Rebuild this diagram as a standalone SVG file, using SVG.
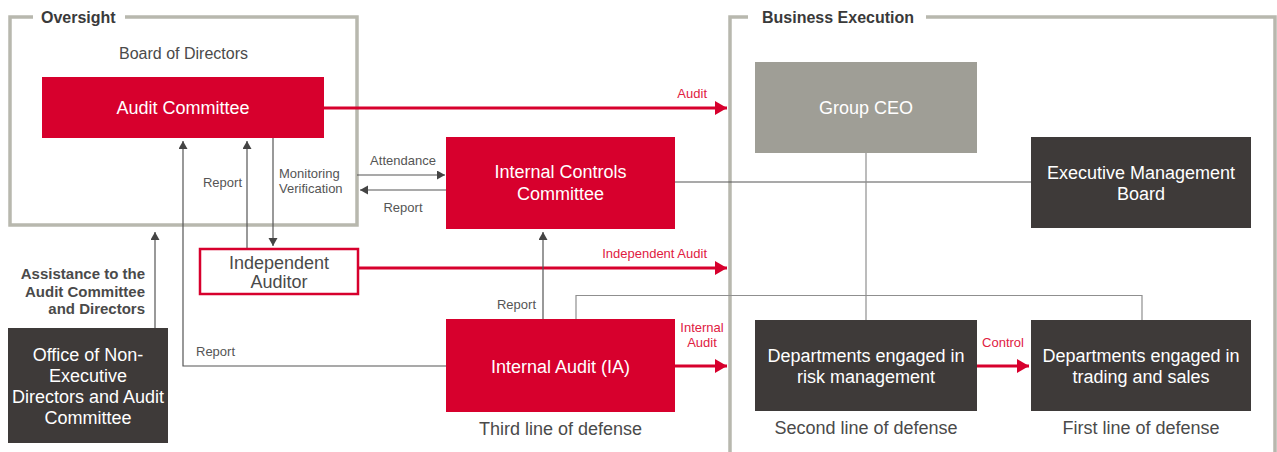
<svg xmlns="http://www.w3.org/2000/svg" width="1277" height="452" viewBox="0 0 1277 452">
<defs>
<style>
text{font-family:"Liberation Sans",Arial,sans-serif;}
.frame{fill:none;stroke:#b8b8ae;stroke-width:3.5;}
.ttl{font-size:16px;font-weight:bold;fill:#3a3a3a;}
.red{fill:#d7002d;}
.dark{fill:#3e3a39;}
.ceo{fill:#9f9e96;}
.wt{fill:#ffffff;font-size:18px;text-anchor:middle;}
.gt{fill:#4a4a4a;font-size:18px;text-anchor:middle;}
.sm{fill:#555555;font-size:13px;}
.rt{fill:#e0203f;font-size:13px;}
.bl{fill:#4a4a4a;font-size:15px;font-weight:bold;text-anchor:end;}
.g{fill:none;stroke:#555555;stroke-width:1.2;}
.gl{fill:none;stroke:#8f8f8f;stroke-width:1.2;}
.r{fill:none;stroke:#d7002d;stroke-width:3;}
</style>
<marker id="ag" markerUnits="userSpaceOnUse" markerWidth="10" markerHeight="10" refX="8" refY="4.5" orient="auto">
<path d="M0,0 L8,4.5 L0,9 z" fill="#444444"/>
</marker>
<marker id="ar" markerUnits="userSpaceOnUse" markerWidth="14" markerHeight="16" refX="12" refY="7" orient="auto">
<path d="M0,0 L12,7 L0,14 z" fill="#d7002d"/>
</marker>
</defs>
<rect width="1277" height="452" fill="#ffffff"/>

<g id="frames">
<path class="frame" d="M33,17 H10 V225 H357 V17 H125"/>
<text class="ttl" x="41" y="23">Oversight</text>
<path class="frame" d="M748,17 H730 V452 M926,17 H1275 V452"/>
<text class="ttl" x="762" y="23">Business Execution</text>
<text class="gt" x="183.5" y="59" style="font-size:16px">Board of Directors</text>
</g>

<g id="connectors">
<path class="r" d="M324,108 H727" marker-end="url(#ar)"/>
<text class="rt" x="707" y="98" text-anchor="end">Audit</text>
<path class="g" d="M446,366 H183 V141" marker-end="url(#ag)"/>
<text class="sm" x="196" y="355.5">Report</text>
<path class="g" d="M247,249 V141" marker-end="url(#ag)"/>
<text class="sm" x="242" y="187" text-anchor="end">Report</text>
<path class="g" d="M273,138 V246" marker-end="url(#ag)"/>
<text class="sm" x="279" y="178">Monitoring</text>
<text class="sm" x="279" y="193">Verification</text>
<path class="g" d="M357,175 H445" marker-end="url(#ag)"/>
<text class="sm" x="403" y="165" text-anchor="middle">Attendance</text>
<path class="g" d="M446,190 H360" marker-end="url(#ag)"/>
<text class="sm" x="403" y="212" text-anchor="middle">Report</text>
<path class="g" d="M675,182 H1031"/>
<path class="gl" d="M866,153 V320"/>
<path class="r" d="M358,268 H727" marker-end="url(#ar)"/>
<text class="rt" x="707" y="258" text-anchor="end">Independent Audit</text>
<path class="g" d="M155,328 V232" marker-end="url(#ag)"/>
<text class="bl" x="145" y="279">Assistance to the</text>
<text class="bl" x="145" y="296.5">Audit Committee</text>
<text class="bl" x="145" y="314">and Directors</text>
<path class="g" d="M543,319 V232" marker-end="url(#ag)"/>
<text class="sm" x="536" y="308.5" text-anchor="end">Report</text>
<path class="gl" d="M576,319 V295.5 H1142 V320"/>
<path class="r" d="M675,366 H727" marker-end="url(#ar)"/>
<text class="rt" x="702" y="331.5" text-anchor="middle">Internal</text>
<text class="rt" x="702" y="347" text-anchor="middle">Audit</text>
<path class="r" d="M977,366 H1029" marker-end="url(#ar)"/>
<text class="rt" x="1003" y="347" text-anchor="middle">Control</text>
</g>

<g id="audit-committee">
<rect class="red" x="42" y="77" width="282" height="61"/>
<text class="wt" x="183" y="114">Audit Committee</text>
</g>

<g id="internal-controls-committee">
<rect class="red" x="446" y="137" width="229" height="92"/>
<text class="wt" x="560.5" y="178">Internal Controls</text>
<text class="wt" x="560.5" y="200">Committee</text>
</g>

<g id="independent-auditor">
<rect x="200" y="249" width="158" height="45" fill="#ffffff" stroke="#d7002d" stroke-width="2.5"/>
<text class="gt" x="279" y="269">Independent</text>
<text class="gt" x="279" y="288">Auditor</text>
</g>

<g id="office">
<rect class="dark" x="8" y="328" width="160" height="115"/>
<text class="wt" x="88" y="361">Office of Non-</text>
<text class="wt" x="88" y="382">Executive</text>
<text class="wt" x="88" y="403">Directors and Audit</text>
<text class="wt" x="88" y="424">Committee</text>
</g>

<g id="internal-audit">
<rect class="red" x="446" y="319" width="229" height="93"/>
<text class="wt" x="560.5" y="373">Internal Audit (IA)</text>
<text class="gt" x="560.5" y="435">Third line of defense</text>
</g>

<g id="group-ceo">
<rect class="ceo" x="755" y="62" width="222" height="91"/>
<text class="wt" x="866" y="114">Group CEO</text>
</g>

<g id="executive-management-board">
<rect class="dark" x="1031" y="137" width="220" height="91"/>
<text class="wt" x="1141" y="179">Executive Management</text>
<text class="wt" x="1141" y="200">Board</text>
</g>

<g id="risk-management">
<rect class="dark" x="755" y="320" width="222" height="91"/>
<text class="wt" x="866" y="362">Departments engaged in</text>
<text class="wt" x="866" y="383">risk management</text>
<text class="gt" x="866" y="434">Second line of defense</text>
</g>

<g id="trading-sales">
<rect class="dark" x="1031" y="320" width="220" height="91"/>
<text class="wt" x="1141" y="362">Departments engaged in</text>
<text class="wt" x="1141" y="383">trading and sales</text>
<text class="gt" x="1141" y="434">First line of defense</text>
</g>
</svg>
